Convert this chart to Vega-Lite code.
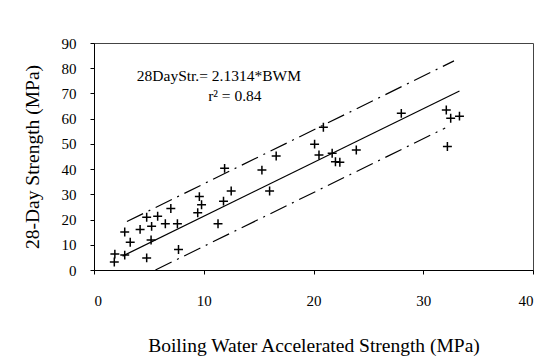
{
  "$schema": "https://vega.github.io/schema/vega-lite/v6.json",
  "width": 439,
  "height": 227,
  "autosize": "none",
  "padding": {"left": 94, "top": 43, "right": 26, "bottom": 92},
  "background": "white",
  "config": {
    "view": {"stroke": "#444", "strokeWidth": 1},
    "axis": {
      "grid": false,
      "domainColor": "black",
      "tickColor": "black",
      "labelColor": "black",
      "titleColor": "black",
      "labelFont": "Liberation Serif",
      "titleFont": "Liberation Serif",
      "labelFontSize": 15,
      "titleFontSize": 19.5,
      "titleFontWeight": "normal",
      "tickSize": 4,
      "labelOverlap": false
    }
  },
  "datasets": {
    "points": [
      {"bwm": 1.9, "str": 6.3}, {"bwm": 1.85, "str": 3.2}, {"bwm": 2.8, "str": 5.9},
      {"bwm": 2.8, "str": 15.1}, {"bwm": 3.3, "str": 11.0}, {"bwm": 4.2, "str": 16.1},
      {"bwm": 4.8, "str": 4.8}, {"bwm": 5.2, "str": 11.9}, {"bwm": 5.25, "str": 17.3},
      {"bwm": 4.8, "str": 20.9}, {"bwm": 5.8, "str": 21.3}, {"bwm": 6.5, "str": 18.3},
      {"bwm": 7.0, "str": 24.4}, {"bwm": 7.6, "str": 18.3}, {"bwm": 7.7, "str": 8.1},
      {"bwm": 9.45, "str": 22.7}, {"bwm": 9.6, "str": 29.1}, {"bwm": 9.8, "str": 25.9},
      {"bwm": 11.3, "str": 18.3}, {"bwm": 11.8, "str": 27.3}, {"bwm": 12.5, "str": 31.3},
      {"bwm": 11.9, "str": 40.3}, {"bwm": 15.3, "str": 39.6}, {"bwm": 16.0, "str": 31.3},
      {"bwm": 16.6, "str": 45.2}, {"bwm": 20.1, "str": 49.9}, {"bwm": 20.5, "str": 45.6},
      {"bwm": 20.9, "str": 56.6}, {"bwm": 21.7, "str": 46.3}, {"bwm": 22.0, "str": 42.9},
      {"bwm": 22.4, "str": 42.7}, {"bwm": 23.9, "str": 47.6}, {"bwm": 28.0, "str": 62.1},
      {"bwm": 32.1, "str": 63.4}, {"bwm": 32.5, "str": 60.2}, {"bwm": 33.3, "str": 61.0},
      {"bwm": 32.2, "str": 49.0}
    ],
    "lines": [
      {"series": "fit", "bwm": 2.6, "str": 5.5},
      {"series": "fit", "bwm": 33.3, "str": 71.0},
      {"series": "upper", "bwm": 3.0, "str": 19.2},
      {"series": "upper", "bwm": 32.8, "str": 82.9},
      {"series": "lower", "bwm": 5.6, "str": 0.0},
      {"series": "lower", "bwm": 32.0, "str": 56.3}
    ],
    "labels": [
      {"label": "28DayStr.= 2.1314*BWM", "bwm": 3.9, "str": 77.0},
      {"label": "r² = 0.84", "bwm": 10.4, "str": 69.0}
    ]
  },
  "encoding": {
    "x": {"field": "bwm", "type": "quantitative", "scale": {"domain": [0, 40]},
          "axis": {"values": [0, 10, 20, 30, 40], "title": "Boiling Water Accelerated Strength (MPa)", "labelPadding": 19, "titlePadding": 28}},
    "y": {"field": "str", "type": "quantitative", "scale": {"domain": [0, 90]},
          "axis": {"values": [0, 10, 20, 30, 40, 50, 60, 70, 80, 90], "title": "28-Day Strength (MPa)", "labelPadding": 14, "titlePadding": 19}}
  },
  "layer": [
    {
      "data": {"name": "lines"},
      "transform": [{"filter": "datum.series === 'fit'"}],
      "mark": {"type": "line", "color": "black", "strokeWidth": 1.2}
    },
    {
      "data": {"name": "lines"},
      "transform": [{"filter": "datum.series !== 'fit'"}],
      "mark": {"type": "line", "color": "black", "strokeWidth": 1.2, "strokeDash": [18, 6, 2, 6]},
      "encoding": {"detail": {"field": "series"}}
    },
    {
      "data": {"name": "points"},
      "mark": {"type": "point", "shape": "M-1,0L1,0M0,-1L0,1", "filled": false, "color": "black", "strokeWidth": 1.5, "size": 80, "opacity": 1}
    },
    {
      "data": {"name": "labels"},
      "mark": {"type": "text", "align": "left", "baseline": "middle", "font": "Liberation Serif", "fontSize": 15.5, "color": "black"},
      "encoding": {"text": {"field": "label"}}
    }
  ]
}
